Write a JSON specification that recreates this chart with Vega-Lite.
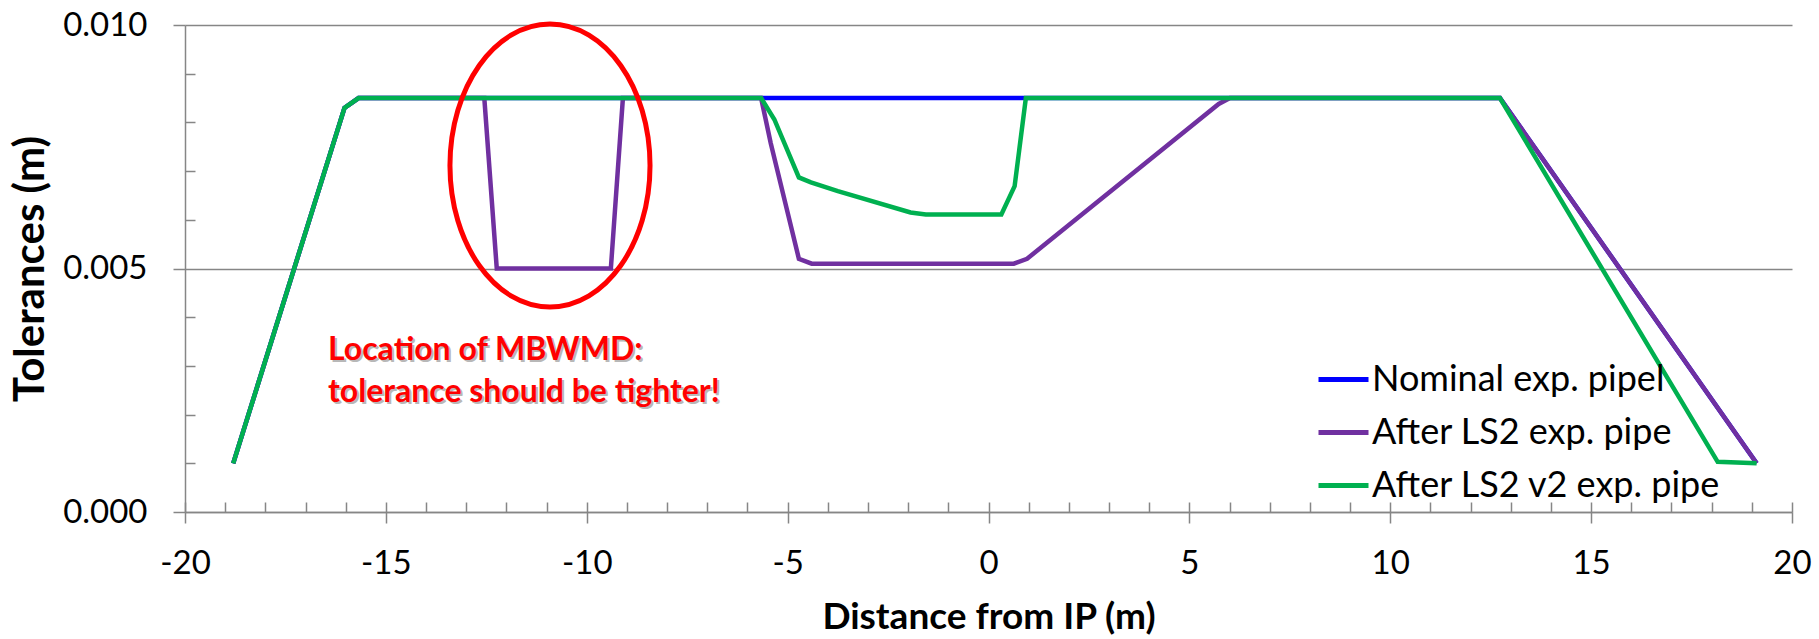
{
  "$schema": "https://vega.github.io/schema/vega-lite/v6.json",
  "width": 1607,
  "height": 487,
  "autosize": {"type": "none"},
  "padding": {"left": 185, "top": 25, "right": 27, "bottom": 127},
  "background": "white",
  "config": {
    "view": {"stroke": null},
    "font": "Lato",
    "axis": {"labelFont": "Lato", "titleFont": "Lato"}
  },
  "datasets": {
    "lines": [
      {"series": "Nominal exp. pipel", "x": -18.8, "y": 0.001},
      {"series": "Nominal exp. pipel", "x": -16.03, "y": 0.0083},
      {"series": "Nominal exp. pipel", "x": -15.68, "y": 0.0085},
      {"series": "Nominal exp. pipel", "x": 12.73, "y": 0.0085},
      {"series": "Nominal exp. pipel", "x": 19.12, "y": 0.001},
      {"series": "After LS2 exp. pipe", "x": -18.8, "y": 0.001},
      {"series": "After LS2 exp. pipe", "x": -16.03, "y": 0.0083},
      {"series": "After LS2 exp. pipe", "x": -15.68, "y": 0.0085},
      {"series": "After LS2 exp. pipe", "x": -12.55, "y": 0.0085},
      {"series": "After LS2 exp. pipe", "x": -12.24, "y": 0.005},
      {"series": "After LS2 exp. pipe", "x": -9.4, "y": 0.005},
      {"series": "After LS2 exp. pipe", "x": -9.1, "y": 0.0085},
      {"series": "After LS2 exp. pipe", "x": -5.66, "y": 0.0085},
      {"series": "After LS2 exp. pipe", "x": -5.42, "y": 0.00757},
      {"series": "After LS2 exp. pipe", "x": -4.72, "y": 0.0052},
      {"series": "After LS2 exp. pipe", "x": -4.4, "y": 0.0051},
      {"series": "After LS2 exp. pipe", "x": 0.63, "y": 0.0051},
      {"series": "After LS2 exp. pipe", "x": 0.96, "y": 0.0052},
      {"series": "After LS2 exp. pipe", "x": 5.73, "y": 0.00838},
      {"series": "After LS2 exp. pipe", "x": 6.01, "y": 0.0085},
      {"series": "After LS2 exp. pipe", "x": 12.73, "y": 0.0085},
      {"series": "After LS2 exp. pipe", "x": 19.12, "y": 0.001},
      {"series": "After LS2 v2 exp. pipe", "x": -18.8, "y": 0.001},
      {"series": "After LS2 v2 exp. pipe", "x": -16.03, "y": 0.0083},
      {"series": "After LS2 v2 exp. pipe", "x": -15.68, "y": 0.0085},
      {"series": "After LS2 v2 exp. pipe", "x": -5.66, "y": 0.0085},
      {"series": "After LS2 v2 exp. pipe", "x": -5.33, "y": 0.00806},
      {"series": "After LS2 v2 exp. pipe", "x": -4.72, "y": 0.00687},
      {"series": "After LS2 v2 exp. pipe", "x": -4.42, "y": 0.00677},
      {"series": "After LS2 v2 exp. pipe", "x": -3.75, "y": 0.00659},
      {"series": "After LS2 v2 exp. pipe", "x": -1.94, "y": 0.00615},
      {"series": "After LS2 v2 exp. pipe", "x": -1.56, "y": 0.00611},
      {"series": "After LS2 v2 exp. pipe", "x": 0.32, "y": 0.00611},
      {"series": "After LS2 v2 exp. pipe", "x": 0.65, "y": 0.00669},
      {"series": "After LS2 v2 exp. pipe", "x": 0.93, "y": 0.0085},
      {"series": "After LS2 v2 exp. pipe", "x": 12.73, "y": 0.0085},
      {"series": "After LS2 v2 exp. pipe", "x": 18.15, "y": 0.00103},
      {"series": "After LS2 v2 exp. pipe", "x": 19.12, "y": 0.001}
    ],
    "notes": [
      {"x": -16.44, "y": 0.003326, "label": "Location of MBWMD:"},
      {"x": -16.44, "y": 0.002464, "label": "tolerance should be tighter!"}
    ],
    "ring": [
      {"x": -10.915, "y": 0.007115}
    ]
  },
  "resolve": {"axis": {"x": "independent", "y": "independent"}},
  "layer": [
    {
      "data": {"name": "lines"},
      "transform": [{"filter": "datum.series === 'Nominal exp. pipel'"}],
      "mark": {"type": "line", "strokeWidth": 4.5, "strokeJoin": "miter"},
      "encoding": {
        "x": {
          "field": "x", "type": "quantitative",
          "scale": {"domain": [-20, 20], "nice": false, "zero": false},
          "axis": {
            "orient": "bottom",
            "values": [-20, -15, -10, -5, 0, 5, 10, 15, 20],
            "labelExpr": "'' + datum.value",
            "title": "Distance from IP (m)",
            "titleFontSize": 37, "titleFontWeight": "bold", "titleColor": "black", "titlePadding": 19,
            "labelFontSize": 33, "labelColor": "black", "labelPadding": 24, "labelFlush": false,
            "tickSize": 11, "tickColor": "#868686", "tickWidth": 1.5,
            "domainColor": "#868686", "domainWidth": 1.5,
            "grid": false
          }
        },
        "y": {
          "field": "y", "type": "quantitative",
          "scale": {"domain": [0, 0.01], "nice": false, "zero": false},
          "axis": {
            "orient": "left",
            "values": [0, 0.005, 0.01],
            "format": ".3f",
            "title": "Tolerances (m)",
            "titleFontSize": 42, "titleFontWeight": "bold", "titleColor": "black", "titlePadding": 10,
            "labelFontSize": 33, "labelColor": "black", "labelPadding": 26, "labelFlush": false,
            "tickSize": 12, "tickColor": "#868686", "tickWidth": 1.5,
            "domainColor": "#868686", "domainWidth": 1.5,
            "grid": true, "gridColor": "#868686", "gridWidth": 1.5
          }
        },
        "color": {
          "field": "series", "type": "nominal",
          "scale": {
            "domain": ["Nominal exp. pipel", "After LS2 exp. pipe", "After LS2 v2 exp. pipe"],
            "range": ["#0000FF", "#7030A0", "#00B050"]
          },
          "legend": {
            "orient": "none", "legendX": 1131, "legendY": 327,
            "title": null,
            "symbolType": "stroke", "symbolSize": 2500, "symbolStrokeWidth": 5,
            "labelFontSize": 36, "labelColor": "black", "labelFont": "Lato", "labelOffset": 1,
            "rowPadding": 7, "labelLimit": 600
          }
        }
      }
    },
    {
      "data": {"name": "lines"},
      "transform": [{"filter": "datum.series === 'After LS2 exp. pipe'"}],
      "mark": {"type": "line", "strokeWidth": 4.5, "strokeJoin": "miter"},
      "encoding": {
        "x": {"field": "x", "type": "quantitative", "axis": null},
        "y": {"field": "y", "type": "quantitative", "axis": null},
        "color": {"field": "series", "type": "nominal"}
      }
    },
    {
      "data": {"name": "lines"},
      "transform": [{"filter": "datum.series === 'After LS2 v2 exp. pipe'"}],
      "mark": {"type": "line", "strokeWidth": 4.5, "strokeJoin": "miter"},
      "encoding": {
        "x": {"field": "x", "type": "quantitative", "axis": null},
        "y": {"field": "y", "type": "quantitative", "axis": null},
        "color": {"field": "series", "type": "nominal"}
      }
    },
    {
      "data": {"name": "lines"},
      "mark": {"type": "point", "opacity": 0},
      "encoding": {
        "x": {
          "field": "x", "type": "quantitative",
          "axis": {
            "orient": "bottom",
            "values": [-20, -19, -18, -17, -16, -15, -14, -13, -12, -11, -10, -9, -8, -7, -6, -5, -4, -3, -2, -1, 0, 1, 2, 3, 4, 5, 6, 7, 8, 9, 10, 11, 12, 13, 14, 15, 16, 17, 18, 19, 20],
            "labels": false, "domain": false, "grid": false, "title": null,
            "tickSize": -10, "tickColor": "#868686", "tickWidth": 1.5
          }
        },
        "y": {
          "field": "y", "type": "quantitative",
          "axis": {
            "orient": "left",
            "values": [0.001, 0.002, 0.003, 0.004, 0.006, 0.007, 0.008, 0.009],
            "labels": false, "domain": false, "grid": false, "title": null,
            "tickSize": -10, "tickColor": "#868686", "tickWidth": 1.5
          }
        }
      }
    },
    {
      "data": {"name": "ring"},
      "mark": {
        "type": "point",
        "shape": "M -0.707 0 A 0.707 1 0 1 0 0.707 0 A 0.707 1 0 1 0 -0.707 0 Z",
        "size": 80089, "filled": false, "color": "#FF0000", "strokeWidth": 5, "opacity": 1
      },
      "encoding": {
        "x": {"field": "x", "type": "quantitative", "axis": null},
        "y": {"field": "y", "type": "quantitative", "axis": null}
      }
    },
    {
      "data": {"name": "notes"},
      "mark": {"type": "text", "align": "left", "baseline": "middle", "font": "Lato", "fontWeight": "bold", "fontSize": 32, "color": "#b8b8b8", "dx": 2, "dy": 2},
      "encoding": {
        "x": {"field": "x", "type": "quantitative", "axis": null},
        "y": {"field": "y", "type": "quantitative", "axis": null},
        "text": {"field": "label"}
      }
    },
    {
      "data": {"name": "notes"},
      "mark": {"type": "text", "align": "left", "baseline": "middle", "font": "Lato", "fontWeight": "bold", "fontSize": 32, "color": "#FF0000"},
      "encoding": {
        "x": {"field": "x", "type": "quantitative", "axis": null},
        "y": {"field": "y", "type": "quantitative", "axis": null},
        "text": {"field": "label"}
      }
    }
  ]
}
